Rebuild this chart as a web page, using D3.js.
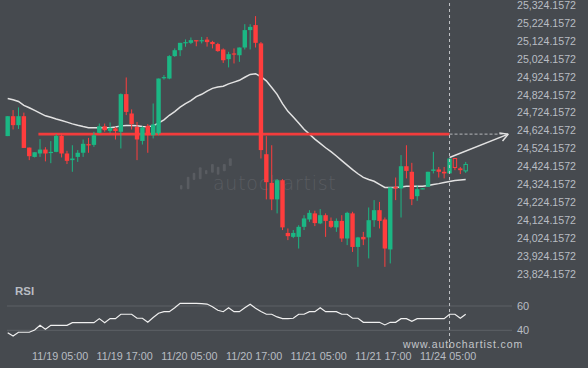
<!DOCTYPE html>
<html><head><meta charset="utf-8">
<script src="https://cdn.jsdelivr.net/npm/d3@7"></script>
<style>
html,body{margin:0;padding:0;background:#464a4f;overflow:hidden}
svg{display:block}
text{font-family:"Liberation Sans",Arial,sans-serif}
</style></head><body>
<svg id="c" width="588" height="368"></svg>
<script>
// ---- data (hourly candles, index 0..85) ----
const opens = [24587,24698,24648,24698,24523,24471,24490,24512,24496,24499,
24588,24490,24453,24471,24494,24542,24538,24605,24642,24616,
24630,24611,24821,24713,24638,24560,24644,24592,24602,24910,
24908,25033,25066,25105,25107,25122,25119,25125,25112,25100,
25070,25016,25048,25038,25081,25178,25206,25104,24486,24326,
24234,24341,24047,24025,24025,24081,24122,24156,24100,24146,
24114,24078,24114,24016,24156,23969,24025,24022,24118,24174,
24122,23955,24304,24295,24419,24388,24252,24294,24304,24393,
24401,24388,24379,24462,24407,24393];
const closes = [24698,24648,24698,24521,24475,24497,24512,24490,24499,24588,
24490,24449,24462,24494,24544,24535,24592,24642,24620,24633,
24615,24821,24722,24654,24568,24635,24592,24652,24908,24916,
25033,25066,25107,25111,25122,25115,25122,25111,25100,25061,
25010,25044,25042,25081,25178,25196,25107,24509,24330,24234,
24341,24078,24029,24047,24081,24128,24159,24102,24146,24114,
24081,24114,24016,24159,23969,24022,24011,24118,24174,24114,
23960,24301,24295,24419,24393,24235,24291,24296,24388,24401,
24388,24379,24462,24412,24397,24429];
const highs = [24698,24732,24747,24718,24523,24497,24570,24525,24559,24598,
24602,24505,24536,24509,24568,24577,24611,24657,24657,24663,
24638,24825,24914,24736,24666,24642,24654,24769,24908,24927,
25038,25076,25107,25126,25137,25122,25140,25140,25118,25107,
25076,25057,25076,25081,25211,25211,25256,25112,24587,24536,
24347,24347,24072,24063,24090,24146,24174,24171,24180,24156,
24133,24128,24146,24165,24165,24025,24053,24189,24230,24220,
24133,24301,24356,24481,24536,24438,24313,24297,24388,24499,
24415,24415,24462,24462,24415,24443];
const lows = [24587,24624,24627,24521,24453,24468,24471,24446,24436,24497,
24468,24431,24388,24443,24471,24494,24527,24602,24611,24605,
24568,24518,24704,24624,24453,24540,24494,24574,24592,24902,
24904,25029,25033,25085,25100,25088,25104,25086,25076,25057,
24995,24970,24992,25001,25070,25070,25081,24462,24234,24174,
24156,24063,24007,24018,23960,24063,24109,24085,24096,24025,
24074,24053,23997,23979,23941,23858,23979,23905,24081,24072,
23858,23877,24230,24133,24351,24202,24226,24291,24304,24379,
24356,24351,24379,24397,24375,24382];
const hollowCandles = [83, 85];
const maValues = [24797,24790,24780,24758,24745,24730,24715,24700,24692,24682,
24674,24665,24655,24647,24640,24634,24633,24633,24633,24633,
24638,24644,24646,24646,24645,24641,24639,24644,24660,24678,
24703,24724,24748,24768,24785,24807,24820,24838,24853,24861,
24865,24878,24888,24898,24915,24931,24935,24918,24895,24858,
24820,24768,24725,24694,24660,24625,24598,24570,24546,24522,
24500,24476,24450,24425,24400,24377,24357,24345,24335,24318,
24301,24301,24301,24303,24307,24308,24308,24308,24312,24317,
24322,24328,24334,24339,24342,24345];
const rsiValues = [38,35.3,38.4,38.4,38.4,40.2,44.1,40.8,44.1,44.1,
44.1,44.1,46.3,46.3,46.3,46.3,46.3,49.6,46.3,49.6,
49.6,53.2,53.2,53.2,49.9,49.9,46.6,50.5,54,55.3,
55.3,58.5,62.2,62.2,62.2,62.2,62,61.6,59.4,56.5,
55.3,58.6,55.3,55.3,58.5,61.4,58.1,55.5,53.2,53.2,
51,49.6,49.6,49.9,53.2,53.2,55.3,55.3,58.6,55.3,
55.3,55.3,53.2,53.2,49.9,49.9,46.6,46.6,46.6,46.6,
44.4,46.6,46.6,49.6,49.6,47.4,49.6,49.6,49.6,49.6,
49.6,49.6,53.2,53.2,49.9,53.2];
const priceTicks = [23824.1572,23924.1572,24024.1572,24124.1572,24224.1572,24324.1572,24424.1572,24524.1572,24624.1572,24724.1572,24824.1572,24924.1572,25024.1572,25124.1572,25224.1572,25324.1572];
const timeTickIndex = [10,22,34,46,58,70,82];
const timeTickLabels = ["11/19 05:00","11/19 17:00","11/20 05:00","11/20 17:00","11/21 05:00","11/21 17:00","11/24 05:00"];
const rsiTicks = [40,60];
const keyLevel = 24598;
const keyLevelStart = 5.7;
const nowIndex = 82;
const forecastStartPrice = 24468;
const forecastEndIndex = 92.9;

// ---- drawing ----
const svg = d3.select("#c");
const GREEN = "#1bb784", RED = "#ff3d3d", BG = "#464a4f", TXT = "#b9bdc3";

const x = d3.scaleLinear().domain([0, 85]).range([7.7, 465.7]);
const y = d3.scaleLinear().domain([23824.1572, 25324.1572]).range([272.9, 3.9]);
const yr = d3.scaleLinear().domain([40, 60]).range([330.3, 306]);

// watermark
const wm = svg.append("g").attr("fill", "#595c61");
[[180,185,2.4,4.5],[186.8,176.7,2.6,12.6],[192.7,172.7,2.6,7.3],[198.8,167.3,2.8,12],[205,170,2.4,4.2],[211,164,2.8,8.7],[216.8,166.7,2.6,8],[222.8,164,3,7.3],[228.8,158.3,3,7.7]]
  .forEach(b => wm.append("rect").attr("x", b[0]).attr("y", b[1]).attr("width", b[2]).attr("height", b[3]).attr("rx", 1));
svg.append("text").attr("x", 213).attr("y", 190).attr("fill", "#595c61")
  .attr("font-size", 19).attr("letter-spacing", 1.2).style("font-family", "'DejaVu Sans',sans-serif").style("font-weight", 300)
  .attr("textLength", 124).text("autochartist");

// price axis
const ya = svg.append("g").attr("transform", "translate(511,0)")
  .call(d3.axisRight(y).tickValues(priceTicks).tickSize(0).tickPadding(6).tickFormat(d3.format(",.4f")));
ya.select(".domain").remove();
ya.selectAll("text").attr("fill", TXT).attr("font-size", 10.6).attr("dy", "0.42em").style("font-family", "'Liberation Sans',Arial,sans-serif");

// MA line
svg.append("path").datum(maValues)
  .attr("fill", "none").attr("stroke", "#e2e2e2").attr("stroke-width", 1.5)
  .attr("d", d3.line().x((d, i) => x(i)).y(d => y(d)));

// key level
svg.append("line").attr("x1", x(keyLevelStart)).attr("x2", x(nowIndex))
  .attr("y1", y(keyLevel)).attr("y2", y(keyLevel))
  .attr("stroke", "#f23c3c").attr("stroke-width", 2.6);
svg.append("line").attr("x1", x(nowIndex)).attr("x2", x(forecastEndIndex))
  .attr("y1", y(keyLevel)).attr("y2", y(keyLevel))
  .attr("stroke", "#b5b7ba").attr("stroke-width", 1).attr("stroke-dasharray", "3,2");

// candles
const idx = d3.range(opens.length);
const cw = 4.4;
const cg = svg.append("g");
idx.forEach(i => {
  const up = closes[i] >= opens[i];
  const col = up ? GREEN : RED;
  const hollow = hollowCandles.includes(i);
  const top = y(Math.max(opens[i], closes[i])), bot = y(Math.min(opens[i], closes[i]));
  if (hollow) {
    cg.append("line").attr("x1", x(i)).attr("x2", x(i)).attr("y1", y(highs[i])).attr("y2", top).attr("stroke", col);
    cg.append("line").attr("x1", x(i)).attr("x2", x(i)).attr("y1", bot).attr("y2", y(lows[i])).attr("stroke", col);
    cg.append("rect").attr("x", x(i) - cw / 2 + 0.5).attr("y", top).attr("width", cw - 1).attr("height", Math.max(1, bot - top))
      .attr("fill", BG).attr("stroke", col).attr("stroke-width", 1);
  } else {
    cg.append("line").attr("x1", x(i)).attr("x2", x(i)).attr("y1", y(highs[i])).attr("y2", y(lows[i])).attr("stroke", col).attr("stroke-width", 1);
    cg.append("rect").attr("x", x(i) - cw / 2).attr("y", top).attr("width", cw).attr("height", Math.max(1.2, bot - top)).attr("fill", col);
  }
});

// forecast arrow
const ax1 = x(nowIndex), ay1 = y(forecastStartPrice), ax2 = x(forecastEndIndex), ay2 = y(keyLevel);
svg.append("line").attr("x1", ax1).attr("y1", ay1).attr("x2", ax2).attr("y2", ay2)
  .attr("stroke", "#e2e2e2").attr("stroke-width", 1.5);
const ang = Math.atan2(ay2 - ay1, ax2 - ax1);
[0.5, -0.5].forEach(da => {
  svg.append("line").attr("x1", ax2).attr("y1", ay2)
    .attr("x2", ax2 - 9 * Math.cos(ang + da)).attr("y2", ay2 - 9 * Math.sin(ang + da))
    .attr("stroke", "#e2e2e2").attr("stroke-width", 1.5);
});

// RSI panel
svg.append("text").attr("x", 15).attr("y", 295).attr("fill", TXT).attr("font-size", 11.5).attr("font-weight", "bold").text("RSI");
svg.append("g").selectAll("line").data(rsiTicks).join("line")
  .attr("x1", 7).attr("x2", 512).attr("y1", d => yr(d)).attr("y2", d => yr(d))
  .attr("stroke", "#5d6166").attr("stroke-width", 1);
const ra = svg.append("g").attr("transform", "translate(511,0)")
  .call(d3.axisRight(yr).tickValues(rsiTicks).tickSize(0).tickPadding(6));
ra.select(".domain").remove();
ra.selectAll("text").attr("fill", TXT).attr("font-size", 11).style("font-family", "'Liberation Sans',Arial,sans-serif");
svg.append("path").datum(rsiValues)
  .attr("fill", "none").attr("stroke", "#f0f0f0").attr("stroke-width", 1.2)
  .attr("d", d3.line().x((d, i) => x(i)).y(d => yr(d)));

// now line
svg.append("line").attr("x1", x(nowIndex)).attr("x2", x(nowIndex)).attr("y1", 3).attr("y2", 350)
  .attr("stroke", "#c4c6c9").attr("stroke-width", 1).attr("stroke-dasharray", "3,3");

// site text
svg.append("text").attr("x", 403).attr("y", 348).attr("fill", "#c3c6ca").attr("font-size", 10.5)
  .attr("letter-spacing", 0.9).text("www.autochartist.com");

// time axis
const xa = svg.append("g").attr("transform", "translate(-2,352)")
  .call(d3.axisBottom(x).tickValues(timeTickIndex).tickSize(0).tickPadding(0).tickFormat((d, i) => timeTickLabels[i]));
xa.select(".domain").remove();
xa.selectAll("text").attr("fill", TXT).attr("font-size", 10.8).attr("dy", "0.72em").style("font-family", "'Liberation Sans',Arial,sans-serif");
</script>
</body></html>
